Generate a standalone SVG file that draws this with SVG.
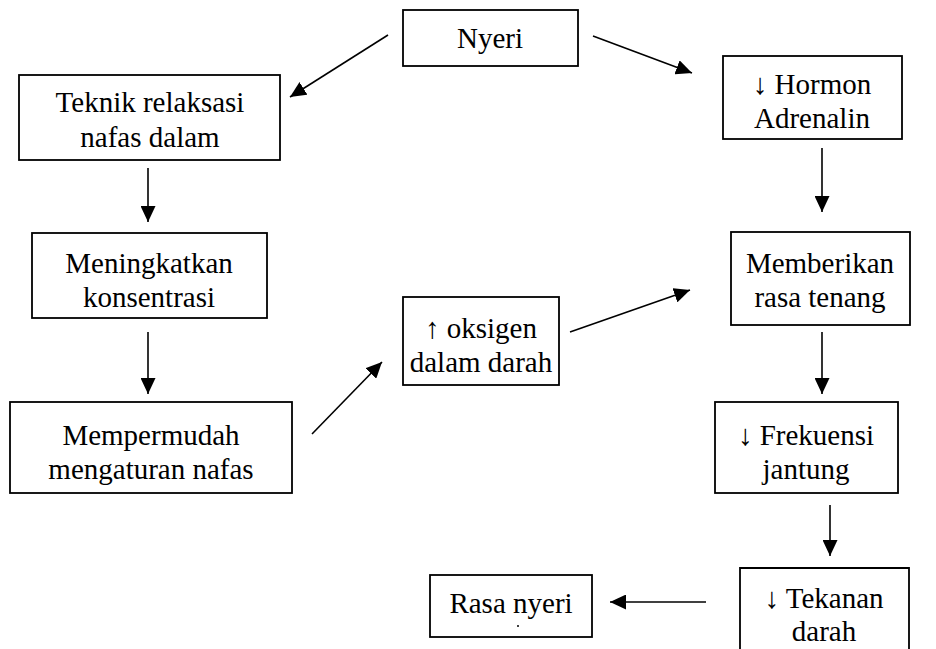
<svg xmlns="http://www.w3.org/2000/svg" width="936" height="649" viewBox="0 0 936 649">
<style>
  .box { fill: #ffffff; stroke: #000000; stroke-width: 1.8; }
  .t { font-family: 'Liberation Serif', Tinos, 'Times New Roman', 'DejaVu Serif', serif; font-size: 29px; fill: #000000; text-anchor: middle; }
  .c { stroke: #000000; stroke-width: 1.6; fill: none; marker-end: url(#ah); }
</style>
<defs>
  <marker id="ah" markerUnits="userSpaceOnUse" markerWidth="17" markerHeight="15" refX="16" refY="7.5" orient="auto">
    <path d="M0,0 L16,7.5 L0,15 z" fill="#000000"/>
  </marker>
</defs>
<rect width="936" height="649" fill="#ffffff"/>

<g id="connectors">
  <path class="c" d="M388,35 L290,97"/>
  <path class="c" d="M593,36 L692,73"/>
  <path class="c" d="M148,168 L148,222"/>
  <path class="c" d="M148,332 L148,394"/>
  <path class="c" d="M312,434 L382,362"/>
  <path class="c" d="M570,332 L690,290"/>
  <path class="c" d="M822,148 L822,212"/>
  <path class="c" d="M822,332 L822,394"/>
  <path class="c" d="M830,505 L830,556"/>
  <path class="c" d="M706,602 L610,602"/>
</g>

<g id="nyeri">
  <rect class="box" x="403" y="10" width="175" height="56"/>
  <text class="t" x="490" y="48">Nyeri</text>
</g>

<g id="teknik">
  <rect class="box" x="19" y="75" width="261" height="85"/>
  <text class="t" x="150" y="112">Teknik relaksasi</text>
  <text class="t" x="150" y="147">nafas dalam</text>
</g>

<g id="hormon">
  <rect class="box" x="723" y="56" width="179" height="83"/>
  <text class="t" x="812" y="94">↓ Hormon</text>
  <text class="t" x="812" y="128">Adrenalin</text>
</g>

<g id="meningkatkan">
  <rect class="box" x="32" y="233" width="235" height="85"/>
  <text class="t" x="149" y="273">Meningkatkan</text>
  <text class="t" x="149" y="307">konsentrasi</text>
</g>

<g id="memberikan">
  <rect class="box" x="731" y="232" width="179" height="93"/>
  <text class="t" x="820" y="273">Memberikan</text>
  <text class="t" x="820" y="307">rasa tenang</text>
</g>

<g id="oksigen">
  <rect class="box" x="403" y="297" width="156" height="88"/>
  <text class="t" x="481" y="338">↑ oksigen</text>
  <text class="t" x="481" y="372">dalam darah</text>
</g>

<g id="mempermudah">
  <rect class="box" x="10" y="402" width="282" height="91"/>
  <text class="t" x="151" y="445">Mempermudah</text>
  <text class="t" x="151" y="479">mengaturan nafas</text>
</g>

<g id="frekuensi">
  <rect class="box" x="715" y="402" width="183" height="91"/>
  <text class="t" x="806" y="445">↓ Frekuensi</text>
  <text class="t" x="806" y="479">jantung</text>
</g>

<g id="tekanan">
  <path class="box" d="M740,660 L740,568 L909,568 L909,660"/>
  <text class="t" x="824" y="608">↓ Tekanan</text>
  <text class="t" x="824" y="641">darah</text>
</g>

<g id="rasa-nyeri">
  <rect class="box" x="430" y="575" width="162" height="62"/>
  <text class="t" x="511" y="613">Rasa nyeri</text>
  <circle cx="518" cy="626" r="1" fill="#000000"/>
</g>
</svg>
